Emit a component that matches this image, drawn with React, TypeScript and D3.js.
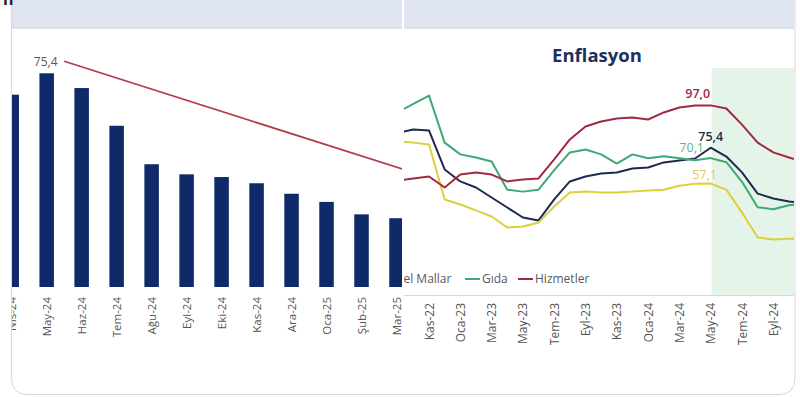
import React from "react";
import * as d3 from "d3";

// ---------- Left chart data ----------
const barCats = ["Nis-24", "May-24", "Haz-24", "Tem-24", "Ağu-24", "Eyl-24", "Eki-24", "Kas-24", "Ara-24", "Oca-25", "Şub-25", "Mar-25"];
const barVals = [69.9, 75.4, 71.6, 61.9, 52.0, 49.4, 48.7, 47.1, 44.4, 42.3, 39.1, 38.1];
const barLabelIndex = 1;
const trendIdx = [1.5, 12];
const trendVals = [78.5, 48.4];

// ---------- Right chart data ----------
const months = ["Eyl-22", "Eki-22", "Kas-22", "Ara-22", "Oca-23", "Şub-23", "Mar-23", "Nis-23", "May-23", "Haz-23", "Tem-23", "Ağu-23", "Eyl-23", "Eki-23", "Kas-23", "Ara-23", "Oca-24", "Şub-24", "Mar-24", "Nis-24", "May-24", "Haz-24", "Tem-24", "Ağu-24", "Eyl-24", "Eki-24", "Kas-24"];
const tufe = [83.0, 84.7, 84.2, 64.3, 58.2, 55.1, 50.0, 44.9, 39.8, 38.3, 49.0, 58.2, 60.7, 62.2, 62.8, 64.8, 65.3, 67.9, 68.9, 69.9, 75.4, 70.9, 62.8, 52.0, 49.5, 48.0, 47.0];
const temelMallar = [78.6, 78.0, 77.0, 49.0, 46.4, 43.4, 40.3, 34.7, 35.2, 37.2, 45.4, 52.6, 53.0, 52.6, 52.6, 53.0, 53.6, 54.0, 56.0, 57.0, 57.1, 54.0, 42.3, 29.6, 28.6, 29.0, 29.0];
const gida = [93.4, 97.8, 102.0, 78.0, 72.0, 70.4, 68.4, 54.0, 53.0, 54.0, 64.0, 73.0, 74.5, 72.0, 67.3, 72.0, 70.0, 71.0, 70.0, 69.0, 70.1, 68.0, 58.0, 45.0, 44.0, 46.0, 47.0];
const hizmetler = [58.7, 59.7, 60.7, 55.1, 61.7, 62.8, 61.7, 58.2, 59.2, 59.7, 69.4, 79.6, 86.2, 88.8, 90.3, 90.8, 89.8, 93.4, 95.9, 96.9, 97.0, 95.4, 87.2, 78.0, 73.0, 70.4, 68.0];
const seriesNames = ["TÜFE", "Temel Mallar", "Gıda", "Hizmetler"];
const labelMonth = "May-24";
const shadeStart = "May-24";

const NAVY = "#1d2a4e";
const YELLOW = "#dccf3c";
const GREEN = "#3ea876";
const RED = "#a3283f";

export default function App() {
  // left scales
  const xL = d3.scaleLinear().domain([0, barCats.length - 1]).range([11.7, 396.5]);
  const yL = d3.scaleLinear().domain([20.4, 75.4]).range([287, 73.3]);
  const barW = 14.5;
  const trendPath = d3.line<number>().x((d, i) => xL(trendIdx[i])).y((d) => yL(d))(trendVals) || "";

  // right scales
  const xR = d3.scaleLinear().domain([0, months.length - 1]).range([397.7, 397.7 + 15.65 * (months.length - 1)]);
  const yR = d3.scaleLinear().domain([0, 100]).range([295.5, 99.5]);
  const line = d3.line<number>().x((d, i) => xR(i)).y((d) => yR(d));
  const series = [
    { name: seriesNames[0], vals: tufe, color: NAVY },
    { name: seriesNames[1], vals: temelMallar, color: YELLOW },
    { name: seriesNames[2], vals: gida, color: GREEN },
    { name: seriesNames[3], vals: hizmetler, color: RED },
  ];
  const li = months.indexOf(labelMonth);
  const si = months.indexOf(shadeStart);
  const tickIdx = months.map((m, i) => i).filter((i) => i % 2 === 0 && xR(i) > 406 && xR(i) < 790);
  const legendX = [310, 362, 465, 518];
  const font = "'Open Sans', 'Liberation Sans', sans-serif";

  const labels = [
    { v: hizmetler[li], text: d3.format(".1f")(hizmetler[li]).replace(".", ","), color: RED, dx: -13, dy: -7, w: 600 },
    { v: tufe[li], text: d3.format(".1f")(tufe[li]).replace(".", ","), color: NAVY, dx: 0, dy: -7, w: 600 },
    { v: gida[li], text: d3.format(".1f")(gida[li]).replace(".", ","), color: "#5cb98c", dx: -19, dy: -6, w: 500 },
    { v: temelMallar[li], text: d3.format(".1f")(temelMallar[li]).replace(".", ","), color: "#e6c94c", dx: -6, dy: -5, w: 500 },
  ];

  return (
    <svg width={800} height={397} style={{ position: "absolute", left: 0, top: 0, background: "#fff" }} fontFamily={font}>
      <defs>
        <clipPath id="clipL"><rect x={12} y={28} width={390} height={366} /></clipPath>
        <clipPath id="clipR"><rect x={404} y={28} width={390} height={366} /></clipPath>
      </defs>
      {/* card */}
      <path d="M11.5,0 L11.5,378 Q11.5,394.5 28,394.5 L779,394.5 Q795,394.5 795,378 L795,0" fill="#fff" stroke="#d9d9d9" strokeWidth={1} />
      {/* header bands */}
      <rect x={12} y={0} width={390} height={28} fill="#dfe5f0" />
      <rect x={404} y={0} width={390} height={28} fill="#dfe5f0" />
      <line x1={12} x2={402} y1={28} y2={28} stroke="#c9d0de" />
      <line x1={404} x2={794} y1={28} y2={28} stroke="#c9d0de" />
      <text x={3} y={5} fontSize={16} fontWeight={700} fill="#222">n</text>

      {/* left chart */}
      <g clipPath="url(#clipL)">
        {barVals.map((v, i) => (
          <rect key={i} x={xL(i) - barW / 2} y={yL(v)} width={barW} height={yL.range()[0] - yL(v)} fill="#0f2a69" />
        ))}
        <path d={trendPath} fill="none" stroke="#b43a4c" strokeWidth={1.8} />
        <text x={xL(barLabelIndex) - 1} y={yL(barVals[barLabelIndex]) - 7} textAnchor="middle" fontSize={12} fill="#595959">
          {d3.format(".1f")(barVals[barLabelIndex]).replace(".", ",")}
        </text>
        {barCats.map((c, i) => (
          <text key={c} transform={`translate(${xL(i)},297) rotate(-90)`} textAnchor="end" dominantBaseline="central" fontSize={11.5} fill="#555">
            {c}
          </text>
        ))}
      </g>

      {/* right chart */}
      <g clipPath="url(#clipR)">
        <rect x={xR(si) + 1} y={68} width={800 - xR(si)} height={yR(0) - 68} fill="#e4f4e8" />
        <line x1={404} x2={794} y1={yR(0)} y2={yR(0)} stroke="#d9d9d9" />
        {series.map((s) => (
          <path key={s.name} d={line(s.vals) || ""} fill="none" stroke={s.color} strokeWidth={2} strokeLinejoin="round" />
        ))}
        {labels.map((l, k) => (
          <text key={k} x={xR(li) + l.dx} y={yR(l.v) + l.dy} textAnchor="middle" fontSize={12.5} fontWeight={l.w} fill={l.color}>
            {l.text}
          </text>
        ))}
        {series.map((s, k) => (
          <g key={s.name}>
            <line x1={legendX[k]} x2={legendX[k] + 15} y1={279} y2={279} stroke={s.color} strokeWidth={2} />
            <text x={legendX[k] + 17} y={283} fontSize={12} fill="#595959">{s.name}</text>
          </g>
        ))}
        {tickIdx.map((i) => (
          <text key={months[i]} transform={`translate(${xR(i)},303) rotate(-90)`} textAnchor="end" dominantBaseline="central" fontSize={12} fill="#555">
            {months[i]}
          </text>
        ))}
      </g>
      <text x={597} y={62} textAnchor="middle" fontSize={18.5} fontWeight={700} fill="#1f2f5c">Enflasyon</text>
    </svg>
  );
}
